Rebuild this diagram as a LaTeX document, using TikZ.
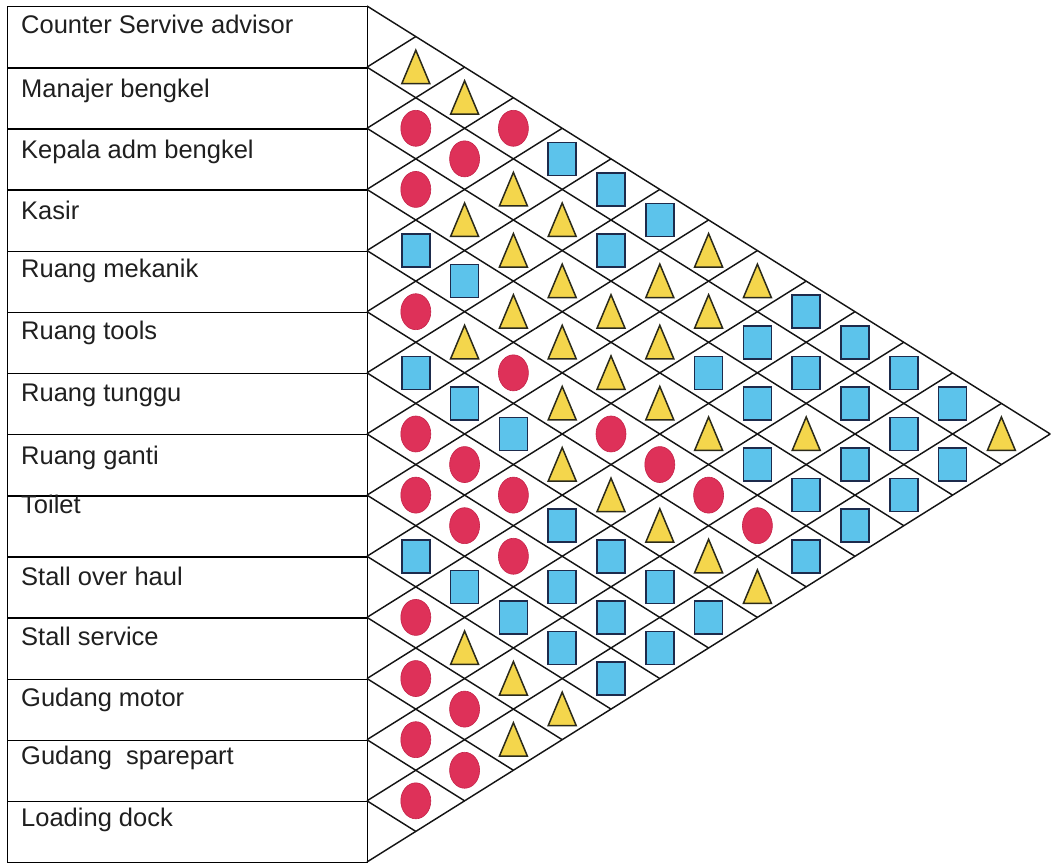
\documentclass[tikz,border=0pt]{standalone}
\usepackage{fontspec}
\setmainfont{Liberation Sans}
\usetikzlibrary{shapes.geometric}
\definecolor{triyel}{HTML}{F4D64C}
\definecolor{triedge}{HTML}{2B2A1A}
\definecolor{redfill}{HTML}{DE3159}
\definecolor{rededge}{HTML}{C52349}
\definecolor{bluefill}{HTML}{5CC3EB}
\definecolor{blueedge}{HTML}{1D2B4C}
\tikzset{
  gridline/.style={line width=1.45pt, draw=black!92},
  rowcell/.style={draw=black, line width=1.4pt, rectangle, minimum width=360pt, minimum height=61.14pt, inner sep=0pt, anchor=north west},
  lab/.style={anchor=base west, inner sep=0pt, font=\fontsize{25.5}{26}\selectfont, text=black!88},
  redsym/.style={ellipse, fill=redfill, draw=rededge, line width=0.6pt, minimum width=30pt, minimum height=36pt, inner sep=0pt},
  bluesym/.style={rectangle, fill=bluefill, draw=blueedge, line width=1.5pt, minimum width=28pt, minimum height=33pt, inner sep=0pt},
  trisym/.style={fill=triyel, draw=triedge, line width=1.5pt, line join=miter},
  tri/.pic={\path[trisym] (-14,16.5) -- (0,-17) -- (14,16.5) -- cycle; \coordinate (-c) at (0,0);}
}
\begin{document}
\begin{tikzpicture}[x=1pt,y=-1pt]
\useasboundingbox (0,0) rectangle (1052,865);
\def\xL{7}\def\xR{367}\def\yT{6}\def\hh{61.14}\def\ww{48.8}
% row boxes and labels
\foreach \i/\t/\o in {1/Counter Servive advisor/27, 2/Manajer bengkel/30, 3/Kepala adm bengkel/30,
  4/Kasir/30, 5/Ruang mekanik/27, 6/Ruang tools/28, 7/Ruang tunggu/29, 8/Ruang ganti/31,
  9/Toilet/18, 10/Stall over haul/29, 11/Stall service/28, 12/Gudang motor/28,
  13/Gudang\ \ sparepart/25, 14/Loading dock/26} {
  \node[rowcell] (row\i) at (\xL, {\yT+(\i-1)*\hh}) {};
  \node[lab] (lab\i) at (21, {\yT+(\i-1)*\hh+\o}) {\t};
}
% grid
\foreach \b in {0,...,14} {
  \coordinate (P\b) at (\xR, {\yT+\b*\hh});
}
\foreach \b in {0,...,13} \draw[gridline] (P\b) -- ++({(14-\b)*\ww}, {(14-\b)*\hh/2});
\foreach \b in {1,...,14} \draw[gridline] (P\b) -- ++({\b*\ww}, {-\b*\hh/2});
% triangles
\foreach \i/\j in {1/2,1/3,3/5,5/7,10/12,2/5,3/6,4/7,10/13,11/14,2/6,3/7,4/8,5/9,6/10,10/14,
  3/8,4/9,6/11,2/8,3/9,4/10,6/12,1/8,2/9,4/11,6/13,1/9,6/14,3/12,1/14}
  \pic (t\i x\j) at ({\xR+(\j-\i)*\ww}, {\yT+(\i+\j-1)*\hh/2}) {tri};
% red ellipses
\foreach \i/\j in {2/3,3/4,5/6,7/8,8/9,10/11,11/12,12/13,13/14,2/4,7/9,8/10,11/13,12/14,
  1/4,5/8,7/10,8/11,5/10,5/11,5/12,5/13}
  \node[redsym] (r\i x\j) at ({\xR+(\j-\i)*\ww}, {\yT+(\i+\j-1)*\hh/2}) {};
% blue squares
\foreach \i/\j in {4/5,6/7,9/10,4/6,6/8,9/11,6/9,9/12,1/5,7/11,8/12,9/13,1/6,2/7,7/12,8/13,9/14,
  1/7,7/13,8/14,3/10,7/14,2/10,3/11,4/12,1/10,2/11,4/13,5/14,1/11,2/12,3/13,4/14,
  1/12,2/13,3/14,1/13,2/14}
  \node[bluesym] (b\i x\j) at ({\xR+(\j-\i)*\ww}, {\yT+(\i+\j-1)*\hh/2}) {};
\end{tikzpicture}
\end{document}
